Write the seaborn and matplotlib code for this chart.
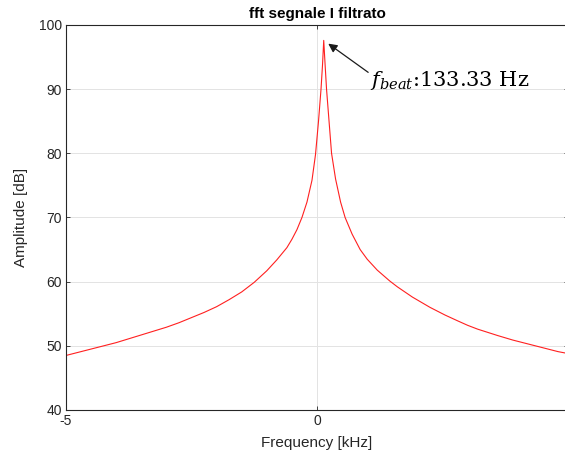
import matplotlib
matplotlib.use("Agg")
import matplotlib.pyplot as plt
import seaborn as sns
import pandas as pd
import numpy as np

# Data (frequency in kHz, amplitude in dB)
freq_khz = [-5.0, -4.75, -4.5, -4.25, -4.0, -3.75, -3.5, -3.25, -3.0, -2.75, -2.5, -2.25,
            -2.0, -1.75, -1.5, -1.25, -1.0, -0.8, -0.6, -0.5, -0.4, -0.3, -0.2, -0.1,
            -0.03, 0.03, 0.08, 0.11, 0.134, 0.16, 0.19, 0.24, 0.29, 0.37, 0.47, 0.56,
            0.7, 0.86, 1.0, 1.2, 1.45, 1.6, 1.9, 2.25, 2.55, 2.8, 3.0, 3.2, 3.6, 3.9,
            4.15, 4.4, 4.6, 4.8, 5.0]
amp_db = [48.5, 49.0, 49.5, 50.0, 50.5, 51.1, 51.7, 52.3, 52.9, 53.6, 54.4, 55.2,
          56.1, 57.2, 58.4, 59.9, 61.7, 63.4, 65.3, 66.6, 68.1, 70.0, 72.4, 75.8,
          79.8, 85.0, 90.0, 93.8, 97.6, 94.0, 90.0, 85.0, 80.0, 76.0, 72.4, 70.0,
          67.4, 65.0, 63.5, 61.8, 60.1, 59.2, 57.6, 56.0, 54.8, 53.9, 53.2, 52.6, 51.6, 50.9,
          50.4, 49.9, 49.5, 49.1, 48.8]

x_ticks = [-5, 0, 5]
x_tick_labels = ["-5", "0", "5"]
y_ticks = [40, 50, 60, 70, 80, 90, 100]
y_tick_labels = ["40", "50", "60", "70", "80", "90", "100"]
title = "fft segnale I filtrato"
xlabel = "Frequency [kHz]"
ylabel = "Amplitude [dB]"
annotation_text = "$f_{beat}$:133.33 Hz"

df = pd.DataFrame({"freq": freq_khz, "amp": amp_db})

sns.set_theme(style="white")
plt.rcParams["font.family"] = ["Liberation Sans", "DejaVu Sans"]
plt.rcParams["mathtext.fontset"] = "dejavuserif"

W, H = 565, 459
fig = plt.figure(figsize=(W / 100, H / 100), dpi=100)
ax = fig.add_axes([66 / W, (H - 410) / H, 502 / W, 385 / H])

sns.lineplot(data=df, x="freq", y="amp", ax=ax, color="#ff2020", linewidth=0.8,
             sort=False, estimator=None)

ax.set_xlim(-5, 5)
ax.set_ylim(40, 100)
ax.set_xticks(x_ticks)
ax.set_xticklabels(x_tick_labels)
ax.set_yticks(y_ticks)
ax.set_yticklabels(y_tick_labels)

dark = "#262626"
ax.grid(True, color="#e3e3e3", linewidth=0.7)
ax.set_axisbelow(True)
for s in ax.spines.values():
    s.set_color(dark)
    s.set_linewidth(0.8)
    s.set_visible(True)
ax.tick_params(direction="in", length=3, width=0.6, color=dark, labelcolor=dark,
               labelsize=10, top=True, right=True, bottom=True, left=True, pad=3)

ax.set_xlabel(xlabel, fontsize=11, color=dark, labelpad=6)
ax.set_ylabel(ylabel, fontsize=11, color=dark, labelpad=8)
ax.set_title(title, fontsize=11, fontweight="bold", color="black", pad=5)

# Annotation at the peak
i_peak = int(np.argmax(amp_db))
px, py = freq_khz[i_peak], amp_db[i_peak]
ax.annotate("", xy=(px, py), xytext=(32, -23), textcoords="offset points",
            xycoords="data",
            arrowprops=dict(arrowstyle="-|>", color="#1a1a1a", lw=0.9,
                            shrinkA=0, shrinkB=4, mutation_scale=13))
ax.annotate(annotation_text, xy=(px, py), xytext=(33, -33), textcoords="offset points",
            fontsize=15, family="DejaVu Serif", color="black", ha="left", va="baseline")

fig.savefig("out.png", dpi=100)
